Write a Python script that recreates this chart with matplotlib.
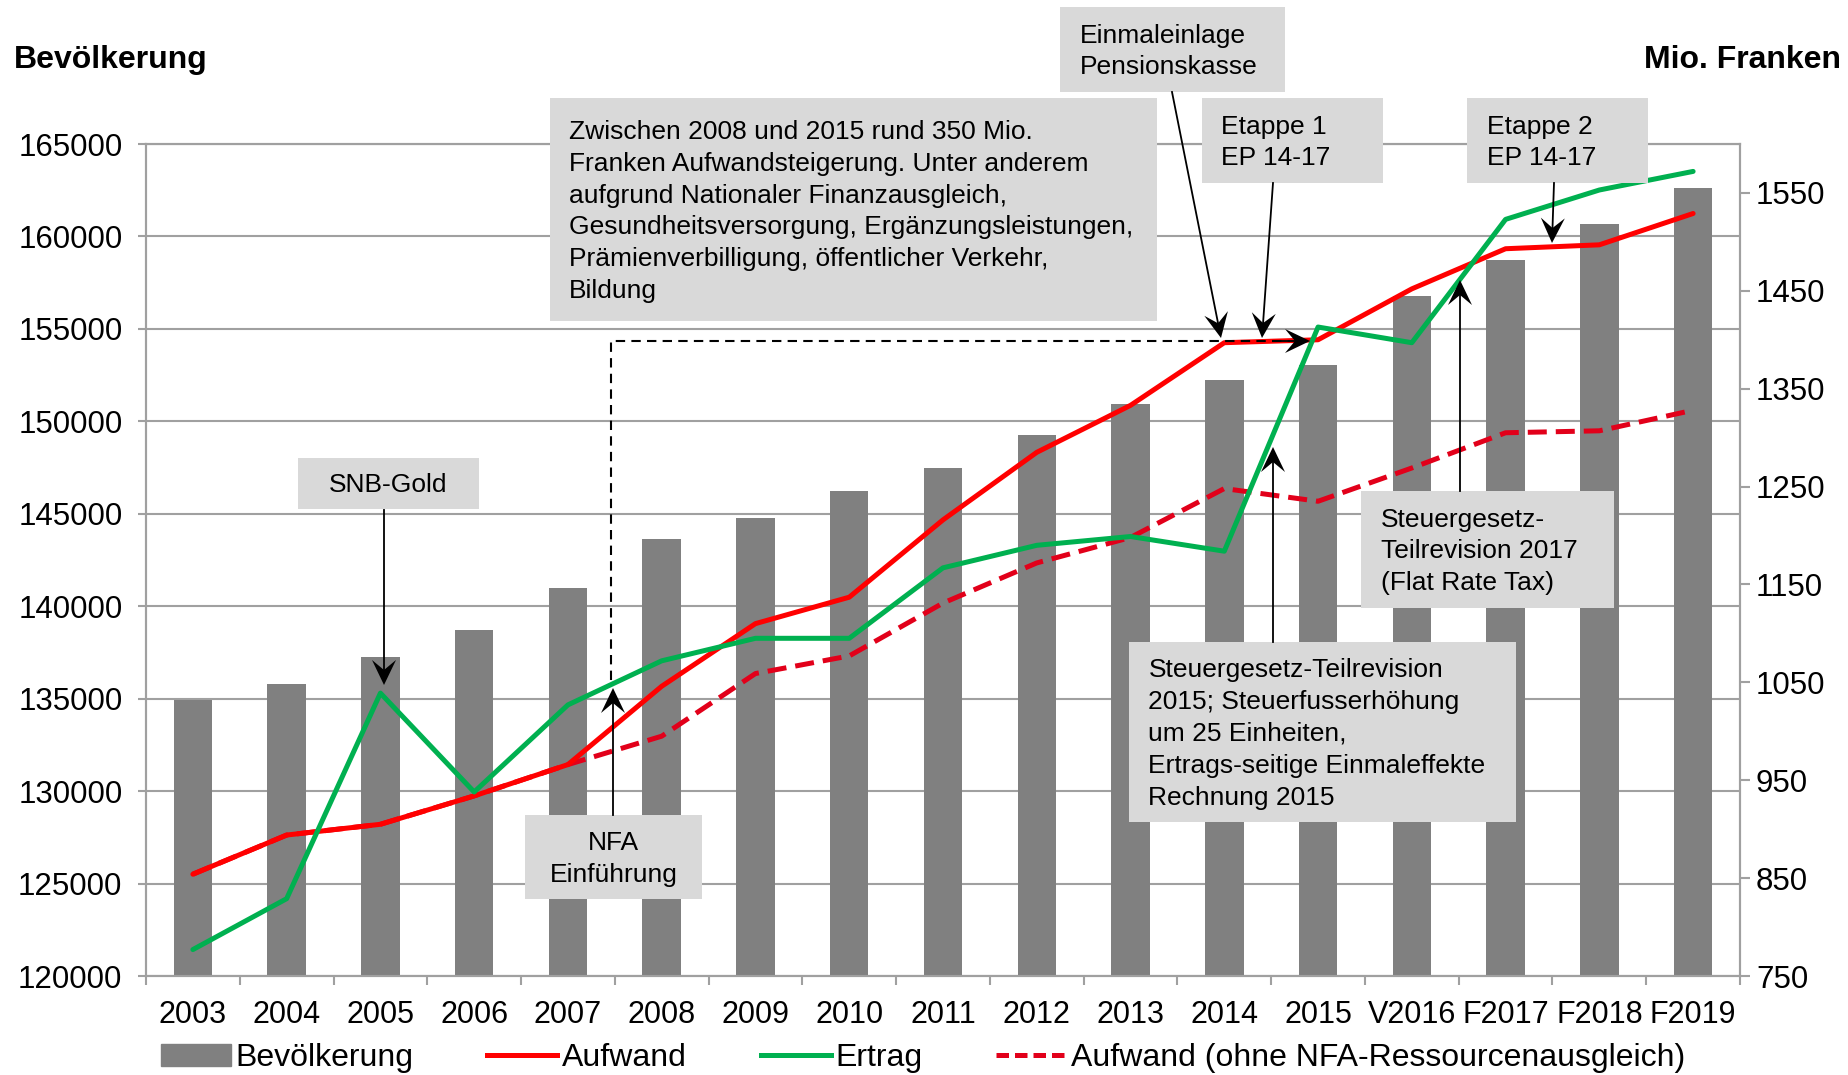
import numpy as np
import matplotlib
matplotlib.use("Agg")
import matplotlib.pyplot as plt
from matplotlib.patches import Rectangle, Polygon, Patch
from matplotlib.lines import Line2D

plt.rcParams['font.family'] = ['Liberation Sans', 'DejaVu Sans']

# Daten
jahre = ['2003', '2004', '2005', '2006', '2007', '2008', '2009', '2010', '2011',
         '2012', '2013', '2014', '2015', 'V2016', 'F2017', 'F2018', 'F2019']
bevoelkerung = [134950, 135790, 137250, 138720, 141010, 143650, 144750, 146230, 147480,
                149260, 150920, 152260, 153070, 156760, 158740, 160650, 162600]
aufwand = [854, 894, 905, 934, 966, 1046, 1110, 1137, 1216,
           1285, 1333, 1397, 1400, 1452, 1493, 1497, 1529]
ertrag = [777, 829, 1039, 938, 1027, 1072, 1095, 1095, 1167,
          1190, 1199, 1184, 1413, 1397, 1523, 1553, 1572]
aufwand_ohne_nfa = [854, 894, 905, 934, 966, 995, 1059, 1077, 1131,
                    1172, 1198, 1248, 1235, 1269, 1305, 1307, 1328]

W, H = 1848, 1075
GRAU = '#A0A0A0'
BOX = '#D9D9D9'

fig = plt.figure(figsize=(W / 100, H / 100), dpi=100)
ax = fig.add_axes([146 / W, 1 - 976 / H, (1740 - 146) / W, (976 - 144) / H])
ax2 = ax.twinx()

x = np.arange(len(jahre))
ax.bar(x, bevoelkerung, width=0.41, color='#808080', zorder=2)
ax.set_xlim(-0.5, len(jahre) - 0.5)
ax.set_ylim(120000, 165000)
ax.set_yticks(np.arange(120000, 165001, 5000))
ax.set_axisbelow(True)
ax.grid(axis='y', color=GRAU, lw=1.5)

ax2.plot(x, aufwand_ohne_nfa, color='#E2001A', lw=3.6, dashes=(3.8, 1.8), zorder=3)
ax2.plot(x, aufwand, color='#FF0000', lw=3.6, solid_capstyle='round', zorder=4)
ax2.plot(x, ertrag, color='#00B050', lw=3.6, solid_capstyle='round', zorder=5)
ax2.set_ylim(750, 1600)
ax2.set_yticks(np.arange(750, 1551, 100))

# Achsen
ax.set_xticks(np.arange(-0.5, len(jahre), 1))
ax.set_xticklabels([])
ax.set_xticks(x, minor=True)
ax.set_xticklabels(jahre, minor=True)
ax.tick_params(axis='x', which='major', length=6.5, width=1.5, color=GRAU)
ax.tick_params(axis='x', which='minor', length=0, labelsize=22, pad=17)
ax.tick_params(axis='y', length=6, width=1.5, color=GRAU, labelsize=22.5, pad=11)
ax2.tick_params(axis='y', length=7, width=1.5, color=GRAU, labelsize=22.5, pad=4.5)
for a in (ax, ax2):
    for s in a.spines.values():
        s.set_color(GRAU)
        s.set_linewidth(1.5)

fig.text(14 / W, 1 - 60 / H, 'Bevölkerung', ha='left', va='center',
         fontsize=23, fontweight='bold')
fig.text(1841 / W, 1 - 60 / H, 'Mio. Franken', ha='right', va='center',
         fontsize=23, fontweight='bold')


def fp(px, py):
    return (px / W, 1 - py / H)


# Kommentarboxen: (x0, y0, x1, y1, text, ausrichtung, text_x)
boxen = [
    (550, 98, 1157, 321, 'Zwischen 2008 und 2015 rund 350 Mio.\nFranken Aufwandsteigerung. Unter anderem\n'
     'aufgrund Nationaler Finanzausgleich,\nGesundheitsversorgung, Ergänzungsleistungen,\n'
     'Prämienverbilligung, öffentlicher Verkehr,\nBildung', 'left', 569),
    (1060, 7, 1285, 92, 'Einmaleinlage\nPensionskasse', 'left', 1080),
    (1202, 98, 1383, 183, 'Etappe 1\nEP 14-17', 'left', 1221),
    (1467, 98, 1648, 183, 'Etappe 2\nEP 14-17', 'left', 1487),
    (298, 458, 479, 509, 'SNB-Gold', 'center', 388.5),
    (525, 815, 702, 899, 'NFA\nEinführung', 'center', 613.5),
    (1361, 491, 1614, 608, 'Steuergesetz-\nTeilrevision 2017\n(Flat Rate Tax)', 'left', 1381),
    (1129, 642, 1516, 822, 'Steuergesetz-Teilrevision\n2015; Steuerfusserhöhung\num 25 Einheiten,\n'
     'Ertrags-seitige Einmaleffekte\nRechnung 2015', 'left', 1148.5),
]
for x0, y0, x1, y1, txt, ha, tx in boxen:
    fig.add_artist(Rectangle(fp(x0, y1), (x1 - x0) / W, (y1 - y0) / H,
                             transform=fig.transFigure, fc=BOX, ec='none', zorder=5))
    fig.text(*fp(tx, (y0 + y1) / 2 + 2), txt, ha=ha, va='center', fontsize=19,
             linespacing=1.42, zorder=6, multialignment=ha)

# gestrichelte Linie NFA
fig.add_artist(Line2D([611 / W, 611 / W, 1290 / W], [1 - 680 / H, 1 - 341 / H, 1 - 341 / H],
                      transform=fig.transFigure, color='black', lw=1.5, dashes=(4.5, 3), zorder=6))

# Pfeile mit Spitze (Stealth-Form): (start, spitze)
pfeile = [
    ((1172, 92), (1221, 338)),
    ((1273, 183), (1262, 338)),
    ((1554, 183), (1552, 243)),
    ((384, 510), (384, 685)),
    ((613, 815), (613, 688)),
    ((1460, 491), (1460, 280)),
    ((1273, 642), (1273, 447)),
    ((1280, 341), (1310, 341)),
]
L, B, K = 25, 12, 10
for (sx, sy), (ex, ey) in pfeile:
    d = np.array([ex - sx, ey - sy], float)
    d /= np.hypot(*d)
    n = np.array([-d[1], d[0]])
    tip = np.array([ex, ey], float)
    back = tip - L * d
    notch = tip - (L - K) * d
    fig.add_artist(Line2D([sx / W, notch[0] / W], [1 - sy / H, 1 - notch[1] / H],
                          transform=fig.transFigure, color='black', lw=1.3, zorder=7))
    pts = [tip, back + B * n, notch, back - B * n]
    fig.add_artist(Polygon([fp(*p) for p in pts], closed=True, transform=fig.transFigure,
                           fc='black', ec='none', zorder=7))

handles = [Patch(color='#808080'),
           Line2D([], [], color='#FF0000', lw=3.6),
           Line2D([], [], color='#00B050', lw=3.6),
           Line2D([], [], color='#E2001A', lw=3.6, dashes=(2.5, 1.2))]
labels = ['Bevölkerung', 'Aufwand', 'Ertrag', 'Aufwand (ohne NFA-Ressourcenausgleich)']
fig.legend(handles, labels, loc='center', bbox_to_anchor=(0.4995, 0.0155), ncol=4,
           frameon=False, fontsize=23, handlelength=2.2, handletextpad=0.15,
           columnspacing=2.3, borderpad=0, borderaxespad=0)

fig.savefig('out.png', dpi=100)
